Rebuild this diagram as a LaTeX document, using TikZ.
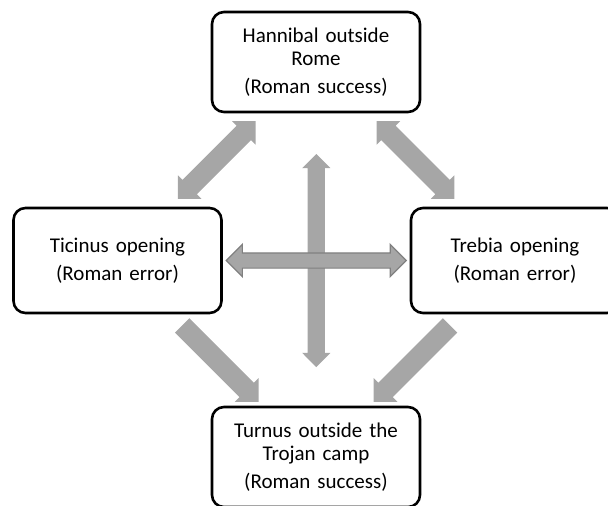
\documentclass[tikz,border=0pt]{standalone}
\usepackage{fontspec}
\setmainfont{Carlito}
\usetikzlibrary{shapes.arrows,calc}
\definecolor{arrgray}{HTML}{A6A6A6}
\definecolor{arredge}{HTML}{808080}
\tikzset{
  box/.style={draw,line width=2.6pt,rounded corners=12pt,minimum width=208pt,minimum height=100pt,
    text width=190pt,align=center,font=\fontsize{21}{23}\selectfont},
  fatarrow/.style={single arrow,fill=arrgray,inner xsep=0pt,inner ysep=10pt,minimum height=108pt,
    single arrow head extend=6.5pt},
  fatdouble/.style={double arrow,fill=arrgray,inner xsep=0pt,inner ysep=10pt,minimum height=110pt,
    double arrow head extend=6.5pt},
}
\begin{document}
\begin{tikzpicture}[x=1pt,y=-1pt]
	\useasboundingbox (0,0) rectangle (608,506);
	%boxes
	\node[box] (hannibal) at (316,62) {Hannibal outside\\Rome\\[5pt](Roman success)};
	\node[box,minimum height=105pt] (ticinus) at (117.5,260.5) {Ticinus opening\\[5pt](Roman error)};
	\node[box,minimum height=105pt] (trebia) at (515,260.5) {Trebia opening\\[5pt](Roman error)};
	\node[box] (turnus) at (316,457) {Turnus outside the\\Trojan camp\\[5pt](Roman success)};
	%arrows
	\node[fatdouble,rotate=45] (tl) at ($(hannibal.south west)!.5!(ticinus.north east)$) {};
	\node[fatdouble,rotate=-45] (tr) at ($(hannibal.south east)!.5!(trebia.north west)$) {};
	\node[fatarrow,rotate=-45] (bl) at ($(ticinus.south east)!.5!(turnus.north west)$) {};
	\node[fatarrow,rotate=-135] (br) at ($(trebia.south west)!.5!(turnus.north east)$) {};
	\coordinate (mid) at ($(ticinus.east)!.5!(trebia.west)$);
	\node[fatdouble,rotate=90,inner ysep=8.5pt,minimum height=213pt,double arrow head extend=5.5pt] (vert) at (mid) {};
	\node[fatdouble,draw=arredge,line width=1.2pt,inner ysep=7pt,minimum height=180pt,double arrow head extend=8.5pt] (horiz) at (mid) {};
\end{tikzpicture}
\end{document}
